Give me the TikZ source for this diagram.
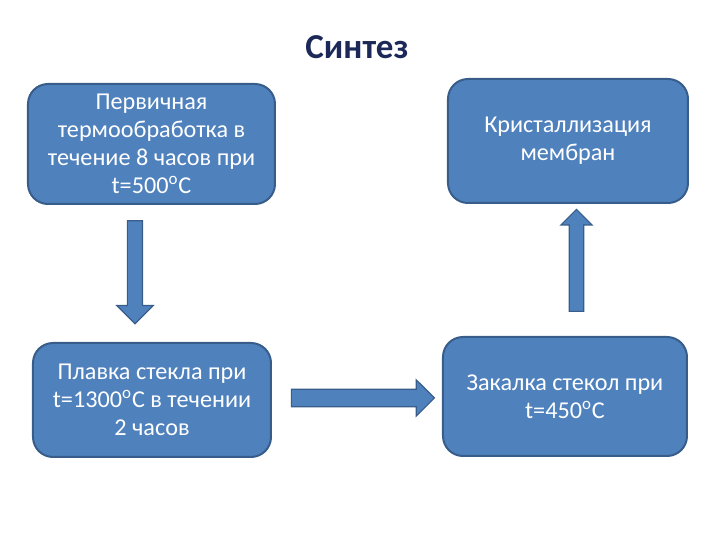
\documentclass[tikz,border=0pt]{standalone}
\usepackage{fontspec}
\setmainfont{Carlito}
\usetikzlibrary{shapes.arrows}
\definecolor{boxblue}{HTML}{4F81BD}
\definecolor{boxedge}{HTML}{385D8A}
\definecolor{titlenavy}{HTML}{1C2857}
\tikzset{
  stage/.style={draw=boxedge, line width=1pt, fill=boxblue, rounded corners=10pt, text=white, align=center,
                font=\fontsize{12.1}{14}\selectfont, inner sep=0pt},
  fat/.style={single arrow, draw=boxedge, line width=0.6pt, fill=boxblue, inner xsep=0pt},
  heading/.style={font=\fontsize{17.5}{20}\selectfont\bfseries, text=titlenavy}
}
\newcommand{\degsup}{\textsuperscript{o}}

\begin{document}
\begin{tikzpicture}[x=0.5pt, y=-0.5pt]
\useasboundingbox (0,0) rectangle (720,540);
\node[heading] (title) at (357,47) {Синтез};
\node[stage, minimum width=123.5pt, minimum height=60pt] (heat) at (151.5,144) {Первичная\\термообработка в\\течение 8 часов при\\t=500\degsup C};
\node[stage, minimum width=120pt, minimum height=62pt] (cryst) at (568,141) {Кристаллизация\\мембран};
\node[stage, minimum width=119pt, minimum height=57pt] (melt) at (152,400) {Плавка стекла при\\t=1300\degsup C в течении\\2 часов};
\node[stage, minimum width=122pt, minimum height=59.5pt] (quench) at (565,396.5) {Закалка стекол при\\t=450\degsup C};
% block arrows between the stages
\node[fat, rotate=-90, minimum height=51.5pt, inner ysep=3.5pt, single arrow head extend=5.3pt] (down) at (135,268.5) {};
\node[fat, minimum height=71.5pt, inner ysep=4.1pt, single arrow head extend=4.7pt] (right) at (358.5,398) {};
\node[fat, rotate=90, minimum height=51pt, inner ysep=3.3pt, single arrow head extend=4.2pt] (up) at (576.5,264) {};
\end{tikzpicture}
\end{document}
